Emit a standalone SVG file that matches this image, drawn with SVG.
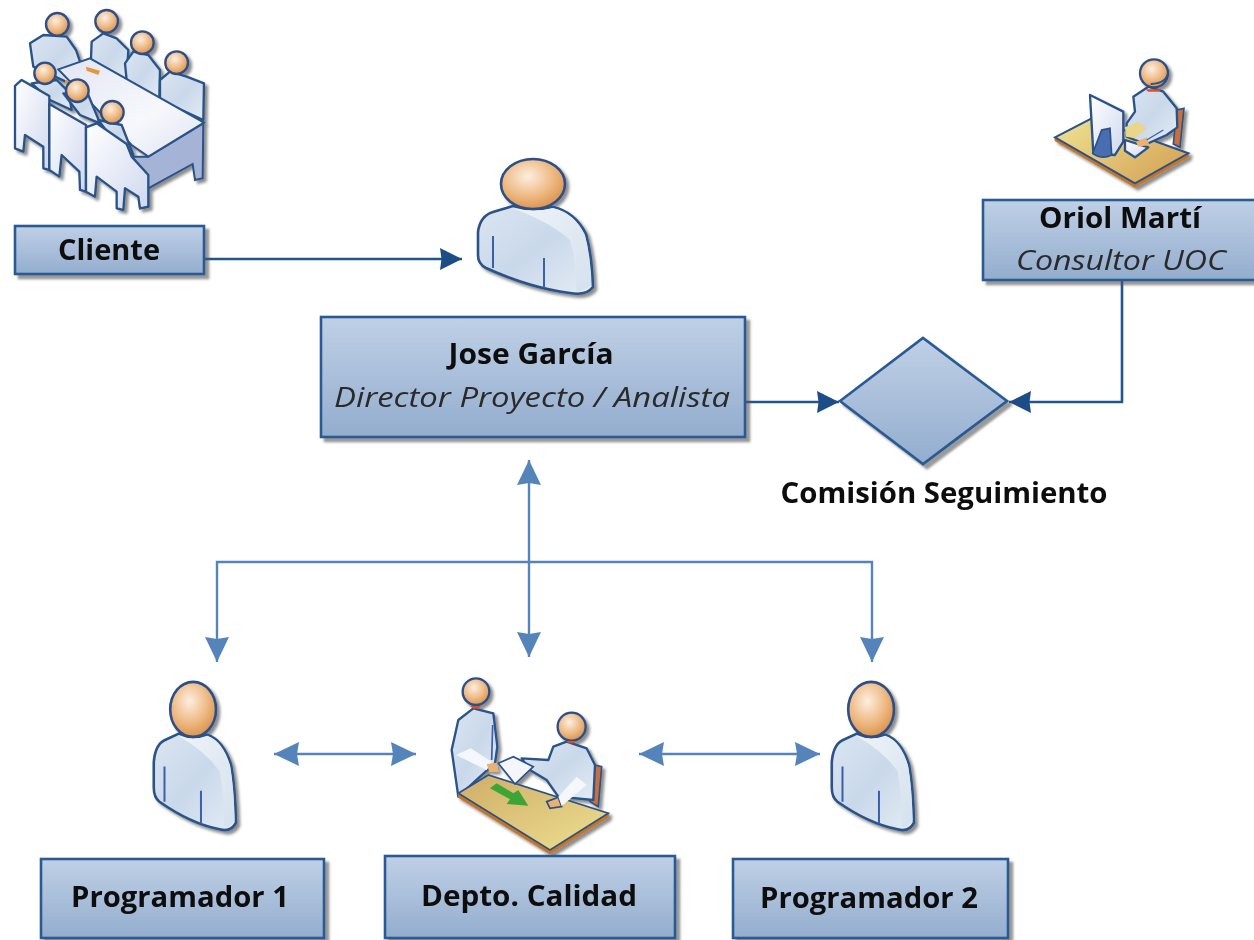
<svg xmlns="http://www.w3.org/2000/svg" width="1254" height="940" viewBox="0 0 1254 940">
<style>
.box{fill:url(#boxG);stroke:#2a5a94;stroke-width:2.6;filter:url(#sh)}
.t{font-family:"Open Sans","Noto Sans","Liberation Sans",sans-serif;font-size:28px;fill:#111;text-anchor:middle}
.b{font-weight:700}
.i{font-style:italic;fill:#2a2a2a}
.dk{fill:none;stroke:#24548f;stroke-width:2.6}
.lt{fill:none;stroke:#5584bb;stroke-width:2.4}
.sk{fill:url(#skin);stroke:#2d4f86;stroke-width:7}
.bd{fill:url(#body);stroke:#2a5288;stroke-linejoin:round;stroke-width:7}
.ch{fill:url(#chair);stroke:#2a5288;stroke-linejoin:round;stroke-width:7}
.ln{fill:none;stroke:#3a5fa8;stroke-width:5}
.ns{vector-effect:non-scaling-stroke}
</style>
<defs>
<linearGradient id="boxG" x1="0" y1="0" x2="0" y2="1"><stop offset="0" stop-color="#bfd0e6"/><stop offset="1" stop-color="#93adce"/></linearGradient>
<linearGradient id="body" x1="0" y1="0" x2="1" y2="1"><stop offset="0" stop-color="#dbe5f1"/><stop offset=".5" stop-color="#c9d8ea"/><stop offset="1" stop-color="#e4ecf5"/></linearGradient>
<linearGradient id="chair" x1="0" y1="0" x2="1" y2="1"><stop offset="0" stop-color="#ffffff"/><stop offset="1" stop-color="#cfd8ef"/></linearGradient>
<linearGradient id="top" x1="0" y1="0" x2="1" y2="1"><stop offset="0" stop-color="#e2e6f4"/><stop offset=".6" stop-color="#f7f8fc"/><stop offset="1" stop-color="#dfe3f2"/></linearGradient>
<linearGradient id="desk" x1="0" y1="0" x2="1" y2="1"><stop offset="0" stop-color="#d0ad68"/><stop offset="1" stop-color="#ecdf90"/></linearGradient>
<linearGradient id="desk2" x1="0" y1="0" x2="1" y2=".6"><stop offset="0" stop-color="#efe394"/><stop offset="1" stop-color="#d7a85a"/></linearGradient>
<linearGradient id="shine" x1="0" y1="0" x2="1" y2="1"><stop offset="0" stop-color="#eef3f8"/><stop offset="1" stop-color="#d4e1ee"/></linearGradient>
<radialGradient id="skin" cx=".42" cy=".35" r=".7"><stop offset="0" stop-color="#fdeee0"/><stop offset=".55" stop-color="#eebb86"/><stop offset="1" stop-color="#d98e45"/></radialGradient>
<filter id="soft" x="0" y="0" width="100%" height="100%" filterUnits="userSpaceOnUse"><feGaussianBlur stdDeviation=".6"/></filter>
<filter id="sh" x="-10%" y="-10%" width="125%" height="125%"><feDropShadow dx="4" dy="4" stdDeviation="1" flood-color="#555" flood-opacity=".6"/></filter>
<filter id="ic" x="-10%" y="-10%" width="125%" height="125%"><feDropShadow dx="3" dy="3" stdDeviation="1.8" flood-color="#000" flood-opacity=".45"/></filter>
<marker id="ad" markerUnits="userSpaceOnUse" markerWidth="24" markerHeight="24" refX="22" refY="12" orient="auto-start-reverse"><path d="M0,1 L22,12 L0,23 L1.5,12 Z" fill="#1f4e86"/></marker>
<marker id="al" markerUnits="userSpaceOnUse" markerWidth="26" markerHeight="26" refX="25" refY="13" orient="auto-start-reverse"><path d="M0,1 L25,13 L0,25 L2,13 Z" fill="#5584bb"/></marker>
<g id="person">
<path class="bd ns" style="stroke-width:2.6" d="M478,232 Q480,216 493,212 L513,206 Q533,212 553,207 Q575,212 586,234 Q592,255 593,287 Q586,296 570,293 Q530,288 486,268 Q478,264 478,255 Z"/>
<path d="M512,208 Q533,213 553,208 Q575,213 585,236 Q590,255 591,285 Q582,292 576,291 Q576,262 570,240 Q550,222 512,208 Z" fill="url(#shine)"/>
<path class="ln ns" style="stroke-width:2" d="M493,236 V268 M544,258 V288"/>
<ellipse class="sk ns" style="stroke-width:2.6" cx="533" cy="184" rx="32" ry="25"/>
</g>
</defs>
<g filter="url(#soft)">
<g id="connectors">
<path class="dk" marker-end="url(#ad)" d="M205,259 H462"/>
<path class="dk" marker-end="url(#ad)" d="M745,402 H839"/>
<path class="dk" marker-end="url(#ad)" d="M1122,280 V402 H1009"/>
<path class="lt" marker-start="url(#al)" marker-end="url(#al)" d="M529,460 V657"/>
<path class="lt" marker-start="url(#al)" marker-end="url(#al)" d="M217,662 V562 H872 V662"/>
<path class="lt" marker-start="url(#al)" marker-end="url(#al)" d="M274,754 H416"/>
<path class="lt" marker-start="url(#al)" marker-end="url(#al)" d="M639,754 H820"/>
</g>

<g id="cliente">
<g filter="url(#ic)"><g transform="scale(.3333)">
<path class="bd" d="M90,130 L130,105 L200,110 L228,150 L240,185 L230,260 L100,200 L97,180 Z"/>
<path class="bd" d="M275,125 L310,100 L350,115 L385,150 L378,260 L272,200 Z"/>
<path class="bd" d="M375,190 L400,155 L445,165 L480,210 L478,300 L380,240 Z"/>
<path class="bd" d="M480,240 L510,215 L560,230 L612,250 L610,360 L480,300 Z"/>
<circle class="sk" cx="172" cy="73" r="34"/><circle class="sk" cx="320" cy="64" r="34"/><circle class="sk" cx="427" cy="128" r="34"/><circle class="sk" cx="530" cy="188" r="34"/>
<path d="M395,470 L445,470 L610,370 L608,535 L585,540 L578,492 L445,565 L445,620 L420,625 L415,560 Z" fill="#a5b3d6" stroke="#2a5288" stroke-width="6"/>
<path d="M175,208 L270,175 L612,368 L445,470 L395,435 Z" fill="url(#top)" stroke="#2a5288" stroke-width="6"/>
<path d="M258,200 L300,212 L295,225 L260,212 Z" fill="#e3983f"/>
<path d="M195,240 L225,248 L215,255 L195,250 Z" fill="#e3983f"/>
<path class="bd" d="M95,250 L170,240 L205,275 L215,330 L150,300 Z"/>
<path class="bd" d="M190,280 L265,285 L300,370 L240,345 Z"/>
<path class="bd" d="M295,360 L365,375 L400,465 L340,420 Z"/>
<path class="ch" d="M45,258 L65,240 L148,288 L148,510 L130,505 L130,440 L75,405 L70,455 L45,445 Z"/>
<path class="ch" d="M148,312 L258,375 L258,575 L240,570 L238,515 L185,465 L178,530 L148,510 Z"/>
<path class="ch" d="M258,382 L290,370 L380,432 L395,470 L445,525 L445,620 L420,625 L415,590 L375,565 L370,630 L350,625 L350,575 L290,530 L285,590 L258,575 Z"/>
<circle class="sk" cx="135" cy="220" r="32"/><circle class="sk" cx="232" cy="272" r="34"/><circle class="sk" cx="337" cy="337" r="34"/>
</g></g>
<rect class="box" x="15" y="226" width="189" height="48"/>
<text class="t b" x="109" y="260" textLength="102" lengthAdjust="spacingAndGlyphs">Cliente</text>
</g>

<g id="jose">
<g filter="url(#ic)"><use href="#person"/></g>
<rect class="box" x="321" y="317" width="424" height="120"/>
<text class="t b" x="531" y="364" textLength="165" lengthAdjust="spacingAndGlyphs">Jose García</text>
<text class="t i" x="532" y="407" textLength="396" lengthAdjust="spacingAndGlyphs">Director Proyecto / Analista</text>
</g>

<g id="oriol">
<g filter="url(#ic)"><g transform="translate(1030,40) scale(.3333)">
<path d="M75,292 L315,432 L475,340 L475,352 L315,442 L75,302 Z" fill="#c5752a" stroke="#c5752a" stroke-width="3"/>
<path d="M75,292 L185,235 L475,340 L315,430 Z" fill="url(#desk2)" stroke="#2a5288" stroke-width="6"/>
<path d="M440,210 L462,205 L450,322 L430,312 Z" fill="#c8703a" stroke="#2a5288" stroke-width="5"/>
<path class="bd" d="M310,170 L355,140 L400,155 L440,205 L442,262 L410,285 L350,312 L315,300 L290,290 L290,250 L315,215 Z"/>
<path d="M285,262 L325,245 L350,265 L315,295 L288,290 Z" fill="#e8d68a"/>
<path class="ch" d="M285,300 L355,322 L315,352 L285,332 Z"/>
<path d="M318,305 L350,292 L358,315 L325,320 Z" fill="#eeb070"/>
<path class="ln" style="stroke-width:4" d="M350,300 L400,270"/>
<path class="ch" d="M180,165 L280,215 L280,305 L255,345 L190,340 Z"/>
<path d="M188,340 L215,270 L240,265 L245,345 Q215,360 188,340 Z" fill="#4a6db0" stroke="#2a5288" stroke-width="5"/>
<path d="M345,148 L395,148 L385,155 L355,155 Z" fill="#d9502a"/>
<circle class="sk" cx="372" cy="100" r="42"/>
<path d="M415,90 Q415,130 362,132" fill="none" stroke="#2a5288" stroke-width="6"/>
</g></g>
<rect class="box" x="983" y="200" width="273" height="80"/>
<text class="t b" x="1120" y="228" textLength="162" lengthAdjust="spacingAndGlyphs">Oriol Martí</text>
<text class="t i" x="1121" y="270" textLength="210" lengthAdjust="spacingAndGlyphs">Consultor UOC</text>
</g>

<g id="comision">
<path class="box" d="M840,401 L923,338 L1007,401 L923,464 Z"/>
<text class="t b" x="944" y="503" textLength="327" lengthAdjust="spacingAndGlyphs">Comisión Seguimiento</text>
</g>

<g id="programador1">
<g filter="url(#ic)"><use href="#person" transform="translate(-188,507) scale(.715,1.1)"/></g>
<rect class="box" x="41" y="859" width="283" height="79"/>
<text class="t b" x="180" y="907" textLength="218" lengthAdjust="spacingAndGlyphs">Programador 1</text>
</g>

<g id="calidad">
<g filter="url(#ic)"><g transform="translate(430,660) scale(.3333)">
<path d="M495,315 L515,320 L505,440 L480,425 Z" fill="#c8703a" stroke="#2a5288" stroke-width="5"/>
<path class="bd" d="M65,270 L85,180 L130,145 L190,160 L202,260 L195,310 L150,350 L85,410 Z"/>
<path class="ln" d="M188,195 L185,300"/>
<path class="bd" d="M275,295 L355,300 L370,260 L410,245 L470,265 L495,315 L490,420 L385,410 L350,360 L300,330 Z"/>
<path d="M85,400 L360,570 L535,460 L535,472 L360,582 L85,412 Z" fill="#c5752a" stroke="#c5752a" stroke-width="3"/>
<path d="M85,400 L175,345 L535,460 L360,570 Z" fill="url(#desk)" stroke="#2a5288" stroke-width="5"/>
<path d="M180,385 L200,370 L250,400 L265,390 L295,437 L230,432 L240,418 Z" fill="#3aa535"/>
<path d="M205,310 L250,290 L310,320 L255,372 Z" fill="#f4f6fb" stroke="#2a5288" stroke-width="5"/>
<path d="M122,265 L185,305 L170,330 L78,285 Z" fill="#f4f7fb"/>
<path d="M170,312 L200,308 L205,335 L178,335 Z" fill="#eeb070"/>
<path d="M350,425 L385,412 L395,440 L360,445 Z" fill="#eeb070" stroke="#2a5288" stroke-width="5"/>
<path d="M385,410 L440,350 L470,375 L395,438 Z" fill="#f4f7fb"/>
<circle class="sk" cx="138" cy="95" r="40"/>
<circle class="sk" cx="425" cy="200" r="42"/>
<path d="M120,138 L155,138 L145,146 L130,146 Z" fill="#d9502a"/>
<path d="M408,243 L442,243 L432,250 L418,250 Z" fill="#d9502a"/>
</g></g>
<rect class="box" x="385" y="856" width="290" height="82"/>
<text class="t b" x="529" y="906" textLength="216" lengthAdjust="spacingAndGlyphs">Depto. Calidad</text>
</g>

<g id="programador2">
<g filter="url(#ic)"><use href="#person" transform="translate(490,507) scale(.715,1.1)"/></g>
<rect class="box" x="733" y="859" width="275" height="79"/>
<text class="t b" x="869" y="908" textLength="218" lengthAdjust="spacingAndGlyphs">Programador 2</text>
</g>
</g>
</svg>
